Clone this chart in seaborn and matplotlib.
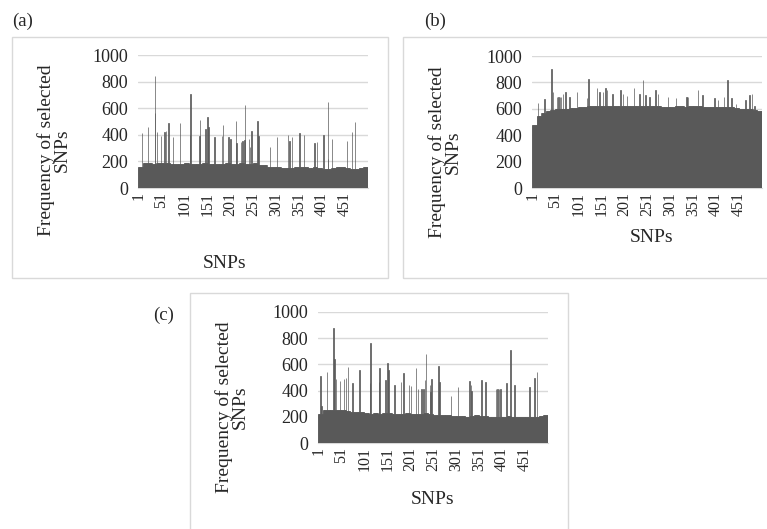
import matplotlib
matplotlib.use('Agg')
import matplotlib.pyplot as plt
from matplotlib.patches import Rectangle
import seaborn as sns
import pandas as pd
import numpy as np

# SNP index on the category axis
n_snps = 500
snp_ids = np.arange(1, n_snps + 1)
tick_labels = [str(i) for i in range(1, n_snps, 50)]

# baseline frequency, one value per block of 10 SNPs
a_base = [160, 185, 185, 180, 185, 190, 185, 180, 180, 180,
          185, 180, 180, 180, 185, 180, 180, 178, 180, 185,
          180, 180, 185, 180, 180, 190, 175, 170, 160, 158,
          155, 152, 150, 152, 155, 160, 155, 152, 155, 150,
          140, 140, 150, 155, 158, 150, 140, 140, 150, 155]
b_base = [480, 545, 565, 580, 590, 595, 598, 600, 603, 605,
          610, 615, 618, 620, 622, 622, 620, 620, 622, 625,
          622, 620, 622, 625, 625, 620, 620, 618, 615, 615,
          615, 618, 618, 615, 618, 620, 618, 615, 612, 610,
          610, 612, 612, 610, 605, 600, 600, 598, 592, 585]
c_base = [220, 255, 250, 250, 250, 252, 245, 240, 238, 235,
          228, 225, 228, 225, 228, 230, 225, 222, 225, 228,
          225, 222, 225, 228, 225, 215, 215, 212, 210, 205,
          205, 205, 200, 205, 210, 205, 205, 202, 200, 198,
          200, 205, 200, 198, 200, 195, 195, 200, 205, 210]

# single SNPs that stand out above the baseline
a_spike_snp = [9, 22, 37, 38, 42, 50, 58, 61, 67, 76,
               92, 114, 115, 134, 135, 147, 152, 154, 167, 183,
               185, 197, 202, 213, 215, 224, 228, 232, 233, 242,
               244, 247, 260, 262, 287, 303, 327, 330, 335, 352,
               361, 384, 390, 404, 413, 414, 422, 455, 466, 472]
a_spike_val = [410, 460, 845, 565, 420, 390, 420, 425, 485, 380,
               485, 400, 705, 390, 510, 440, 535, 455, 380, 390,
               470, 380, 370, 505, 340, 345, 355, 360, 625, 370,
               310, 430, 505, 390, 310, 380, 400, 350, 385, 415,
               400, 340, 345, 400, 220, 645, 370, 350, 420, 495]

b_spike_snp = [13, 28, 43, 46, 55, 58, 61, 64, 68, 73,
               82, 98, 120, 123, 142, 147, 155, 160, 163, 175,
               193, 198, 207, 222, 234, 242, 247, 256, 269, 274,
               296, 314, 336, 338, 340, 361, 371, 397, 405, 418,
               425, 434, 444, 465, 473, 479, 484]
b_spike_val = [645, 675, 900, 730, 690, 690, 690, 690, 710, 730,
               690, 730, 680, 825, 760, 730, 730, 755, 740, 715,
               745, 710, 695, 755, 710, 820, 705, 690, 740, 710,
               690, 685, 690, 690, 690, 740, 705, 680, 665, 690,
               815, 680, 640, 665, 705, 710, 620]

c_spike_snp = [6, 8, 20, 34, 36, 40, 48, 57, 61, 66,
               75, 91, 113, 115, 133, 134, 147, 152, 154, 167,
               181, 186, 198, 203, 214, 218, 225, 230, 233, 235,
               244, 245, 247, 262, 265, 290, 305, 330, 333, 334,
               356, 365, 388, 391, 394, 397, 410, 419, 428, 460,
               471, 477]
c_spike_val = [510, 285, 540, 880, 645, 490, 470, 485, 500, 580,
               455, 560, 455, 760, 465, 575, 480, 610, 555, 440,
               465, 535, 440, 435, 575, 415, 415, 415, 480, 680,
               440, 390, 485, 590, 465, 355, 430, 475, 440, 400,
               480, 465, 415, 415, 415, 415, 455, 710, 440, 430,
               500, 545]

BAR = '#595959'
GRID = '#d9d9d9'
W, H = 767, 529

sns.set_style('white')
plt.rcParams['font.family'] = ['Liberation Serif', 'DejaVu Serif']


def px(x, y):
    return x / W, 1 - y / H


def make_freq(base, spike_snp, spike_val):
    freq = np.repeat(np.array(base, dtype=float), 10)
    freq[np.array(spike_snp) - 1] = spike_val
    return pd.DataFrame({'snp': snp_ids, 'freq': freq})


def draw_panel(fig, box, label, label_xy, ylab_xy, xlab_xy, df):
    left, top, right, bottom = box
    ax = fig.add_axes([left / W, 1 - bottom / H, (right - left) / W, (bottom - top) / H])
    sns.barplot(data=df, x='snp', y='freq', color=BAR, saturation=1, width=1.0,
                linewidth=0.5, edgecolor=BAR, ax=ax, zorder=3)
    ax.set_ylim(0, 1000)
    ax.set_xlim(-0.5, n_snps - 0.5)
    ax.set_yticks(range(0, 1001, 200))
    ax.set_xticks(range(0, n_snps, 50))
    ax.set_xticklabels(tick_labels, rotation=90, fontsize=11.5)
    ax.tick_params(axis='y', labelsize=13, length=0, pad=7)
    ax.tick_params(axis='x', length=0, pad=3)
    ax.yaxis.grid(True, color=GRID, linewidth=1, zorder=0)
    for s in ['top', 'right', 'left']:
        ax.spines[s].set_visible(False)
    ax.spines['bottom'].set_color(GRID)
    ax.set_xlabel('')
    ax.set_ylabel('')
    fig.text(*px(*label_xy), label, fontsize=13.5, ha='left', va='center')
    fig.text(*px(*ylab_xy), 'Frequency of selected\nSNPs', fontsize=14, rotation=90,
             ha='center', va='center', multialignment='center', linespacing=0.9)
    fig.text(*px(*xlab_xy), 'SNPs', fontsize=14, ha='center', va='center')
    return ax


fig = plt.figure(figsize=(W / 100, H / 100), dpi=100)

# panel frames
for x0, y0, x1, y1 in [(12, 37, 388, 278), (403, 37, 775, 278), (190, 293, 568, 540)]:
    fig.patches.append(Rectangle(px(x0, y1), (x1 - x0) / W, (y1 - y0) / H,
                                 transform=fig.transFigure, fill=False,
                                 edgecolor=GRID, linewidth=1))

draw_panel(fig, (138, 55, 368, 188), '(a)', (12, 21), (54, 150), (225, 263),
           make_freq(a_base, a_spike_snp, a_spike_val))
draw_panel(fig, (532, 56, 762, 188), '(b)', (424, 21), (445, 152), (652, 237),
           make_freq(b_base, b_spike_snp, b_spike_val))
draw_panel(fig, (318, 312, 548, 443), '(c)', (153, 315), (232, 407), (433, 499),
           make_freq(c_base, c_spike_snp, c_spike_val))

fig.savefig('out.png', dpi=100)
